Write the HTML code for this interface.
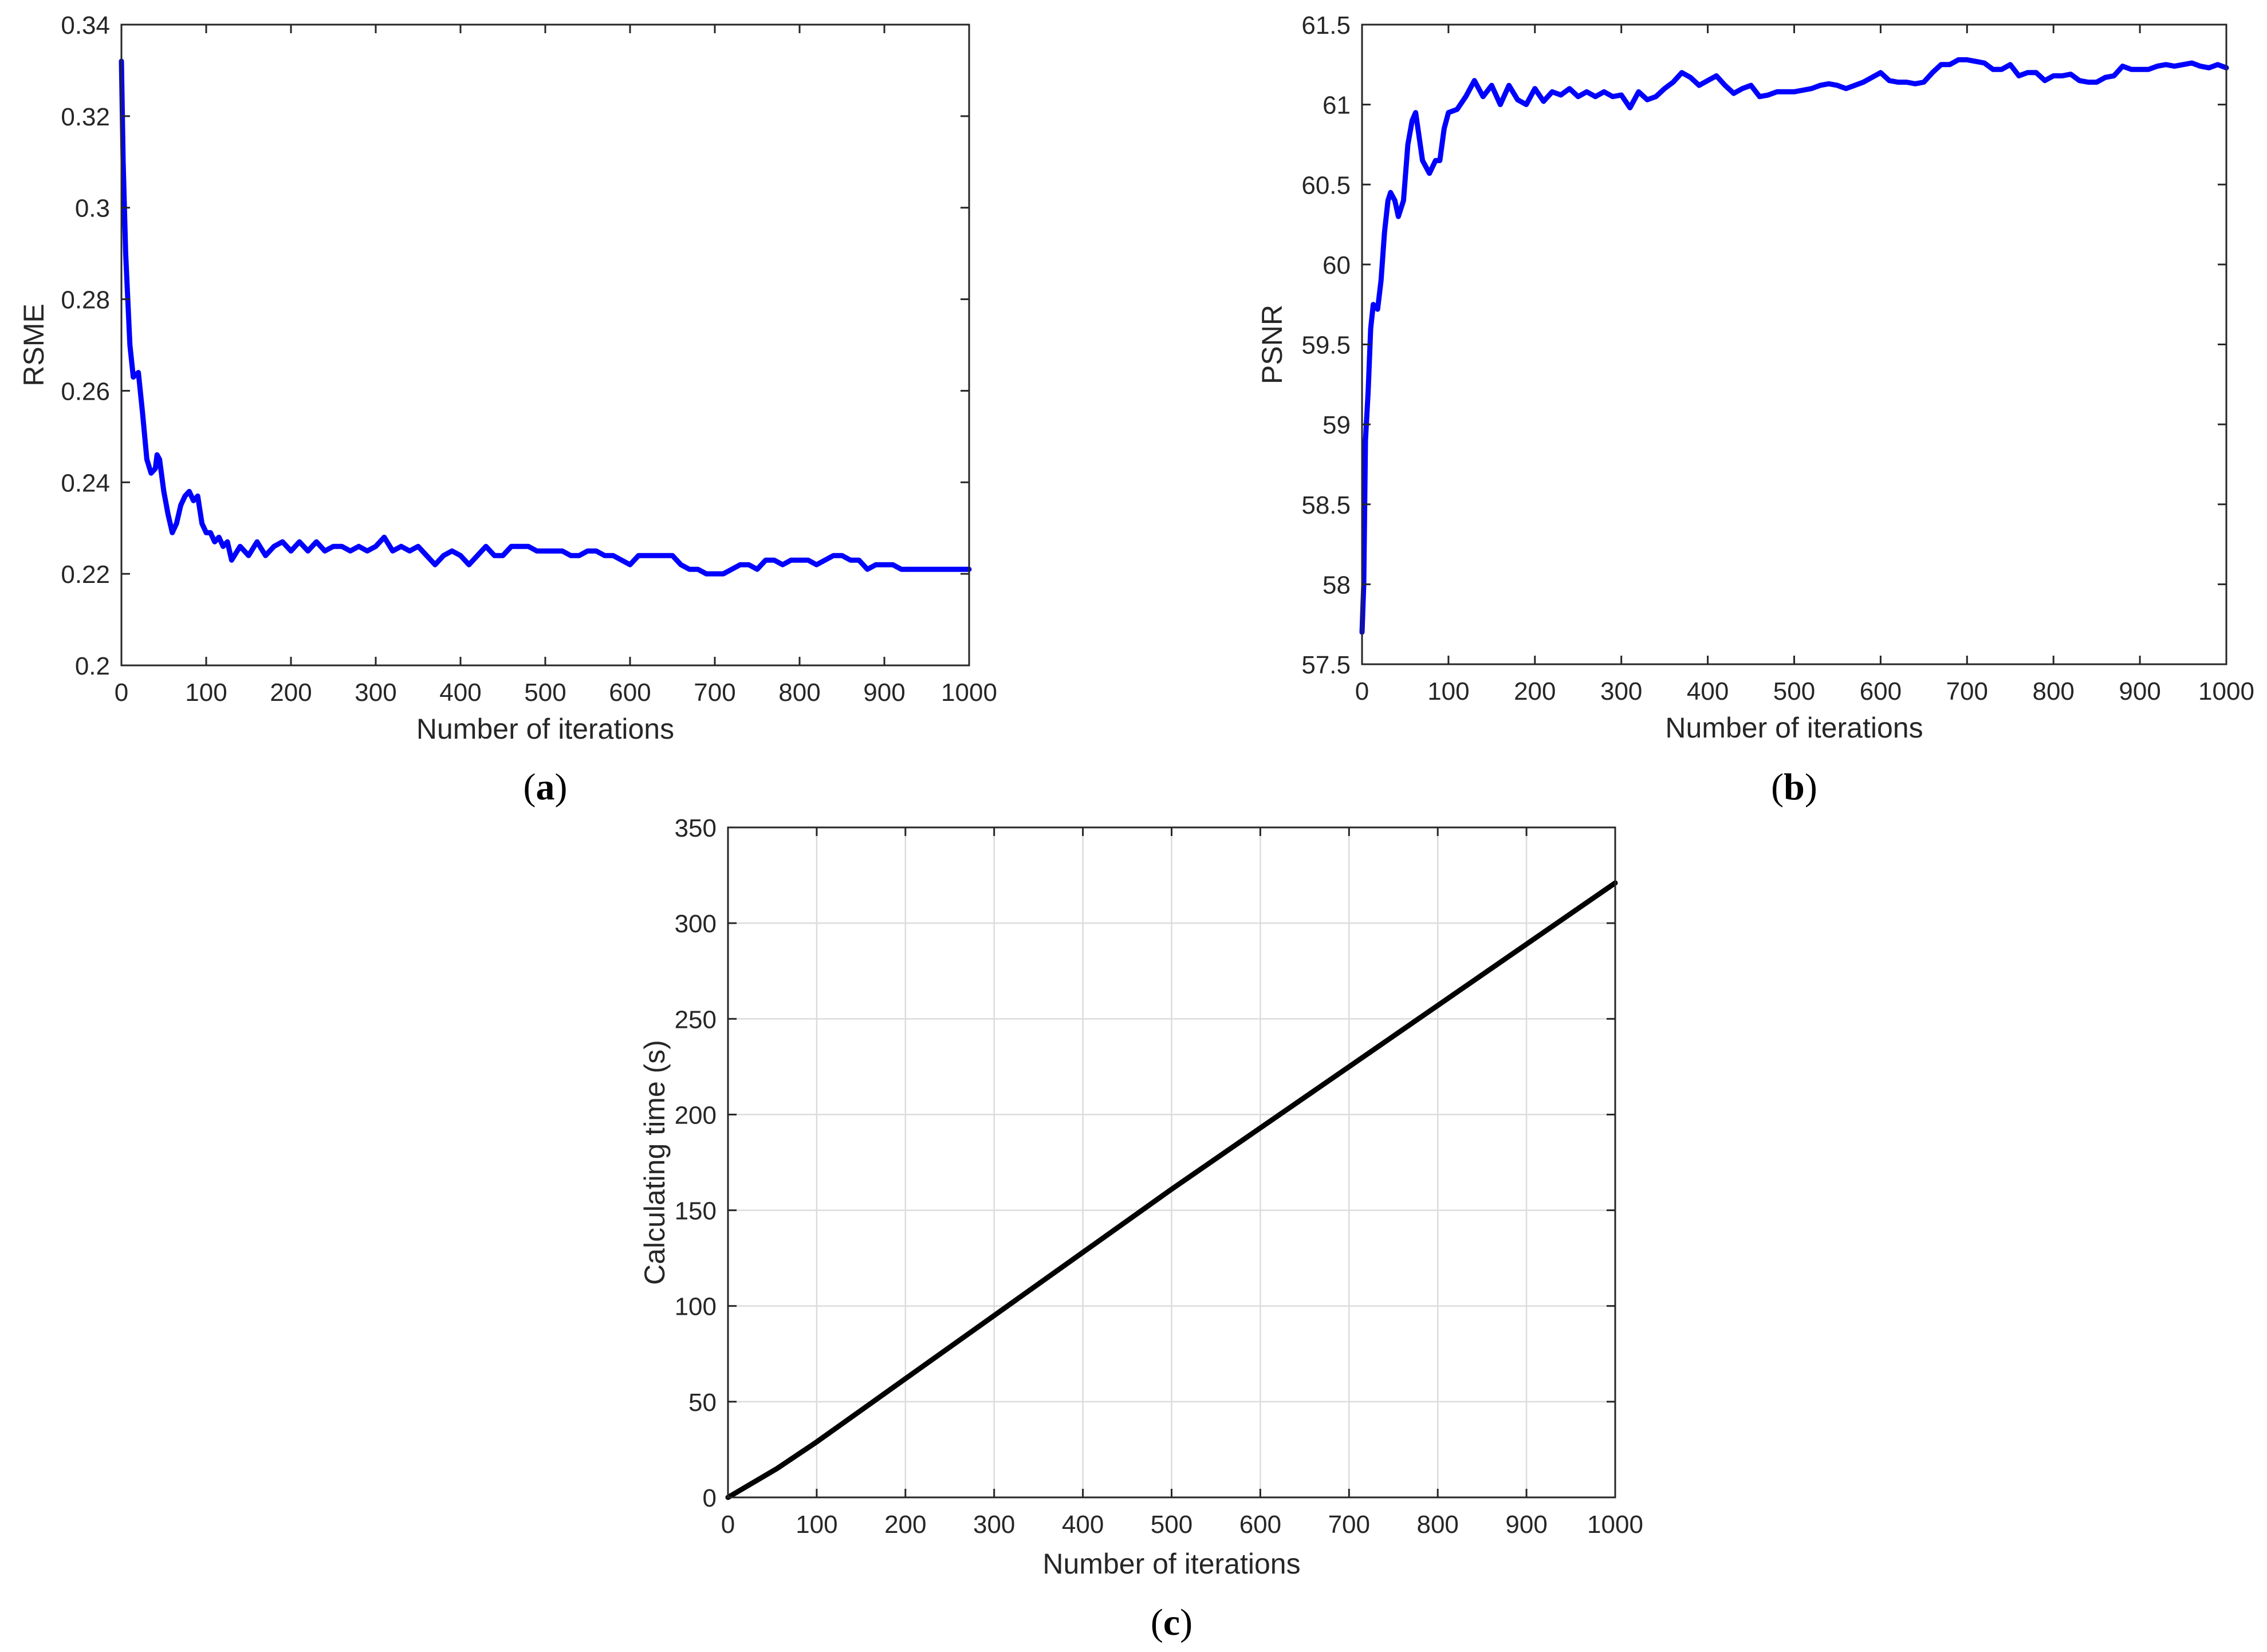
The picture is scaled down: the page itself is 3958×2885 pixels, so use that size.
<!DOCTYPE html>
<html><head><meta charset="utf-8">
<style>
html,body{margin:0;padding:0;background:#fff;}
svg{display:block;}
text{font-family:"Liberation Sans",sans-serif;fill:#262626;}
.cap{font-family:"Liberation Serif",serif;fill:#000;}
</style></head>
<body>
<svg id="fig" width="3958" height="2885" viewBox="0 0 3958 2885" xmlns="http://www.w3.org/2000/svg"></svg>
<script>
// ---- Data ----
const rsmeIter = [0,2,5,10,14,20,25,30,35,40,42,45,50,55,60,65,70,75,80,85,90,95,100,105,110,115,120,125,130,140,150,160,170,180,190,200,210,220,230,240,250,260,270,280,290,300,310,320,330,340,350,360,370,380,390,400,410,420,430,440,450,460,470,480,490,500,510,520,530,540,550,560,570,580,590,600,610,620,630,640,650,660,670,680,690,700,710,720,730,740,750,760,770,780,790,800,810,820,830,840,850,860,870,880,890,900,910,920,930,940,950,960,970,980,990,1000];
const rsmeValues = [0.332,0.31,0.29,0.27,0.263,0.264,0.255,0.245,0.242,0.243,0.246,0.245,0.238,0.233,0.229,0.231,0.235,0.237,0.238,0.236,0.237,0.231,0.229,0.229,0.227,0.228,0.226,0.227,0.223,0.226,0.224,0.227,0.224,0.226,0.227,0.225,0.227,0.225,0.227,0.225,0.226,0.226,0.225,0.226,0.225,0.226,0.228,0.225,0.226,0.225,0.226,0.224,0.222,0.224,0.225,0.224,0.222,0.224,0.226,0.224,0.224,0.226,0.226,0.226,0.225,0.225,0.225,0.225,0.224,0.224,0.225,0.225,0.224,0.224,0.223,0.222,0.224,0.224,0.224,0.224,0.224,0.222,0.221,0.221,0.220,0.220,0.220,0.221,0.222,0.222,0.221,0.223,0.223,0.222,0.223,0.223,0.223,0.222,0.223,0.224,0.224,0.223,0.223,0.221,0.222,0.222,0.222,0.221,0.221,0.221,0.221,0.221,0.221,0.221,0.221,0.221];
const psnrIter = [0,2,4,7,10,13,18,22,26,30,33,38,42,48,53,58,62,66,70,78,85,90,95,100,110,120,130,140,150,160,170,180,190,200,210,220,230,240,250,260,270,280,290,300,310,320,330,340,350,360,370,380,390,400,410,420,430,440,450,460,470,480,490,500,510,520,530,540,550,560,570,580,590,600,610,620,630,640,650,660,670,680,690,700,710,720,730,740,750,760,770,780,790,800,810,820,830,840,850,860,870,880,890,900,910,920,930,940,950,960,970,980,990,1000];
const psnrValues = [57.7,58.0,58.9,59.2,59.6,59.75,59.72,59.9,60.2,60.4,60.45,60.4,60.3,60.4,60.75,60.9,60.95,60.8,60.65,60.57,60.65,60.65,60.85,60.95,60.97,61.05,61.15,61.05,61.12,61.0,61.12,61.03,61.0,61.1,61.02,61.08,61.06,61.1,61.05,61.08,61.05,61.08,61.05,61.06,60.98,61.08,61.03,61.05,61.1,61.14,61.2,61.17,61.12,61.15,61.18,61.12,61.07,61.1,61.12,61.05,61.06,61.08,61.08,61.08,61.09,61.1,61.12,61.13,61.12,61.1,61.12,61.14,61.17,61.2,61.15,61.14,61.14,61.13,61.14,61.2,61.25,61.25,61.28,61.28,61.27,61.26,61.22,61.22,61.25,61.18,61.2,61.2,61.15,61.18,61.18,61.19,61.15,61.14,61.14,61.17,61.18,61.24,61.22,61.22,61.22,61.24,61.25,61.24,61.25,61.26,61.24,61.23,61.25,61.23];
const timeIter = [0,55,100,200,300,400,500,600,700,800,900,1000];
const timeValues = [0,15,29,62,95,128,161,193,225,257,289,321];
const xTicks = [0,100,200,300,400,500,600,700,800,900,1000];
const rsmeTicks = [0.2,0.22,0.24,0.26,0.28,0.3,0.32,0.34];
const psnrTicks = [57.5,58,58.5,59,59.5,60,60.5,61,61.5];
const timeTicks = [0,50,100,150,200,250,300,350];

const NS="http://www.w3.org/2000/svg";
const svg=document.getElementById('fig');
function mk(tag,attrs,parent){const e=document.createElementNS(NS,tag);for(const k in attrs)e.setAttribute(k,attrs[k]);(parent||svg).appendChild(e);return e;}

function panel(o){
  const g=mk('g',{});
  
  
  const {L,R,T,B}=o;
  const xs=v=>L+(v-0)/(1000)*(R-L);
  const ys=v=>B-(v-o.ymin)/(o.ymax-o.ymin)*(B-T);
  if(o.grid){
    xTicks.forEach(t=>{const l=mk('line',{x1:xs(t),x2:xs(t),y1:T,y2:B,stroke:'#dcdcdc','stroke-width':2.5},g);
      
      });
    o.yTicks.forEach(t=>{const l=mk('line',{x1:L,x2:R,y1:ys(t),y2:ys(t),stroke:'#dcdcdc','stroke-width':2.5},g);
      
      });
  }
  let d='';o.xv.forEach((x,i)=>{d+=(i?'L':'M')+xs(x).toFixed(1)+','+ys(o.yv[i]).toFixed(1);});
  const p=mk('path',{d:d,fill:'none',stroke:o.color,'stroke-width':o.lw,'stroke-linejoin':'round','stroke-linecap':'round'},g);
  
  
  const box=mk('rect',{x:L,y:T,width:R-L,height:B-T,fill:'none',stroke:'#262626','stroke-width':3},g);
  
  
  const tl=15;
  xTicks.forEach(t=>{
    mk('line',{x1:xs(t),x2:xs(t),y1:B,y2:B-tl,stroke:'#262626','stroke-width':3},g);
    mk('line',{x1:xs(t),x2:xs(t),y1:T,y2:T+tl,stroke:'#262626','stroke-width':3},g);
    const tx=mk('text',{x:xs(t),y:B+62,'font-size':44,'text-anchor':'middle'},g);
    tx.textContent=t;
    
    
  });
  o.yTicks.forEach(t=>{
    mk('line',{x1:L,x2:L+tl,y1:ys(t),y2:ys(t),stroke:'#262626','stroke-width':3},g);
    mk('line',{x1:R,x2:R-tl,y1:ys(t),y2:ys(t),stroke:'#262626','stroke-width':3},g);
    const tx=mk('text',{x:L-20,y:ys(t)+16,'font-size':44,'text-anchor':'end'},g);
    tx.textContent=t;
    
    
  });
  const xt=mk('text',{x:(L+R)/2,y:o.xtY,'font-size':50,'text-anchor':'middle'},g);
  xt.textContent='Number of iterations';
  
  
  const yt=mk('text',{x:0,y:0,'font-size':50,'text-anchor':'middle',transform:`translate(${o.ytX},${(T+B)/2}) rotate(-90)`},g);
  yt.textContent=o.ytitle;
  
  
  const cap=mk('text',{x:(L+R)/2,y:o.capY,'font-size':66,'text-anchor':'middle',class:'cap'},g);
  cap.innerHTML='(<tspan font-weight="bold">'+o.cap+'</tspan>)';
  
  
}

panel({name:'rsme-chart',L:212,R:1692,T:43,B:1162,ymin:0.2,ymax:0.34,yTicks:rsmeTicks,xv:rsmeIter,yv:rsmeValues,color:'#0000ff',lw:9,ytitle:'RSME',xtY:1290,ytX:76,capY:1396,cap:'a'});
panel({name:'psnr-chart',L:2378,R:3887,T:43,B:1160,ymin:57.5,ymax:61.5,yTicks:psnrTicks,xv:psnrIter,yv:psnrValues,color:'#0000ff',lw:9,ytitle:'PSNR',xtY:1288,ytX:2238,capY:1396,cap:'b'});
panel({name:'time-chart',L:1271,R:2820,T:1445,B:2615,ymin:0,ymax:350,yTicks:timeTicks,xv:timeIter,yv:timeValues,color:'#000000',lw:9,ytitle:'Calculating time (s)',xtY:2748,ytX:1160,capY:2855,cap:'c',grid:true});
</script>
</body></html>
